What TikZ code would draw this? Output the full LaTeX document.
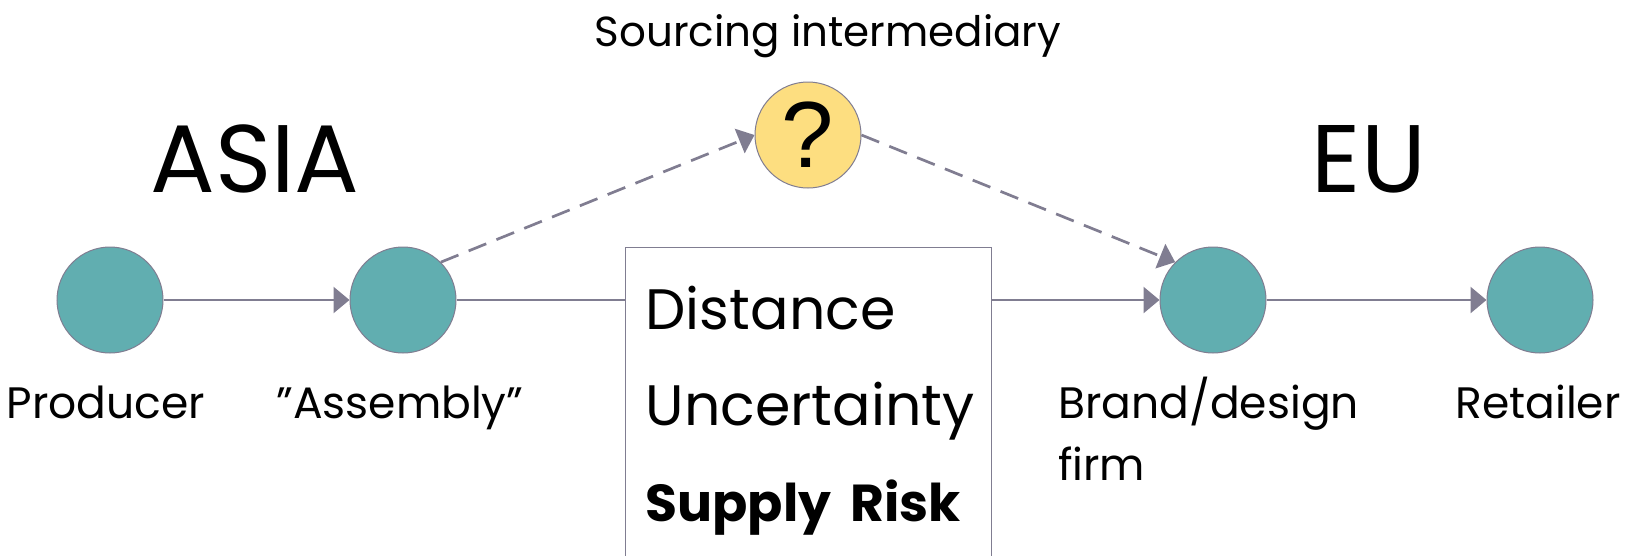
\documentclass[tikz,border=0pt]{standalone}
\usepackage{fontspec}
\setmainfont{Poppins}
\newfontfamily\qfont{Liberation Sans}
\usetikzlibrary{arrows.meta,positioning}
\definecolor{hubteal}{RGB}{97,174,176}
\definecolor{askyellow}{RGB}{253,222,128}
\definecolor{flowgray}{RGB}{128,125,145}

\begin{document}
\begin{tikzpicture}[x=1pt, y=-1pt, >={Triangle[length=16pt,width=26pt]},
 hub/.style={circle, draw=flowgray, line width=1pt, fill=hubteal, minimum size=106pt, inner sep=0pt},
 ask/.style={circle, draw=flowgray, line width=1pt, fill=askyellow, minimum size=106pt, inner sep=0pt, font=\qfont\fontsize{94}{94}\selectfont},
 lbl/.style={anchor=base, inner sep=0pt, font=\fontsize{44}{62}\selectfont},
 region/.style={anchor=base, inner sep=0pt, font=\fontsize{96}{96}\selectfont},
 flow/.style={->, draw=flowgray, line width=2.7pt},
 maybe/.style={flow, dash pattern=on 19pt off 11pt},
 riskbox/.style={draw=flowgray, line width=1.3pt, fill=white, anchor=north west, align=left, text width=326pt, inner xsep=20pt, inner ysep=38pt, font=\fontsize{57}{96}\selectfont}]
\useasboundingbox (0,0) rectangle (1631,555);
% chain of firms
\node[hub] (producer) at (110,300) {};
\node[hub] (assembly) at (403,300) {};
\node[hub] (brand) at (1213,300) {};
\node[hub] (retailer) at (1540,300) {};
\node[ask] (ask) at (808,135) {?};
% flows
\draw[flow] (producer)--(assembly);
\draw[flow] (assembly)--(brand);
\draw[flow] (brand)--(retailer);
\draw[maybe] (assembly.north east)--(ask.west);
\draw[maybe] (ask.east)--(brand.north west);
% box over the long link
\node[riskbox] (risks) at (625,247) {Distance\\Uncertainty\\{\bfseries\fontsize{52}{96}\selectfont Supply Risk}};
% labels
\node[lbl] (producerlbl) at (106,418) {Producer};
\node[lbl] (assemblylbl) at (400,418) {”Assembly”};
\node[lbl, anchor=base west, align=left] (brandlbl) at (1058,480) {Brand/design\\firm};
\node[lbl] (retailerlbl) at (1538,418) {Retailer};
\node[lbl, font=\fontsize{42}{42}\selectfont] (asklbl) at (828,46) {Sourcing intermediary};
\node[region] (asia) at (255,192) {ASIA};
\node[region] (eu) at (1369,192) {EU};
\end{tikzpicture}
\end{document}
